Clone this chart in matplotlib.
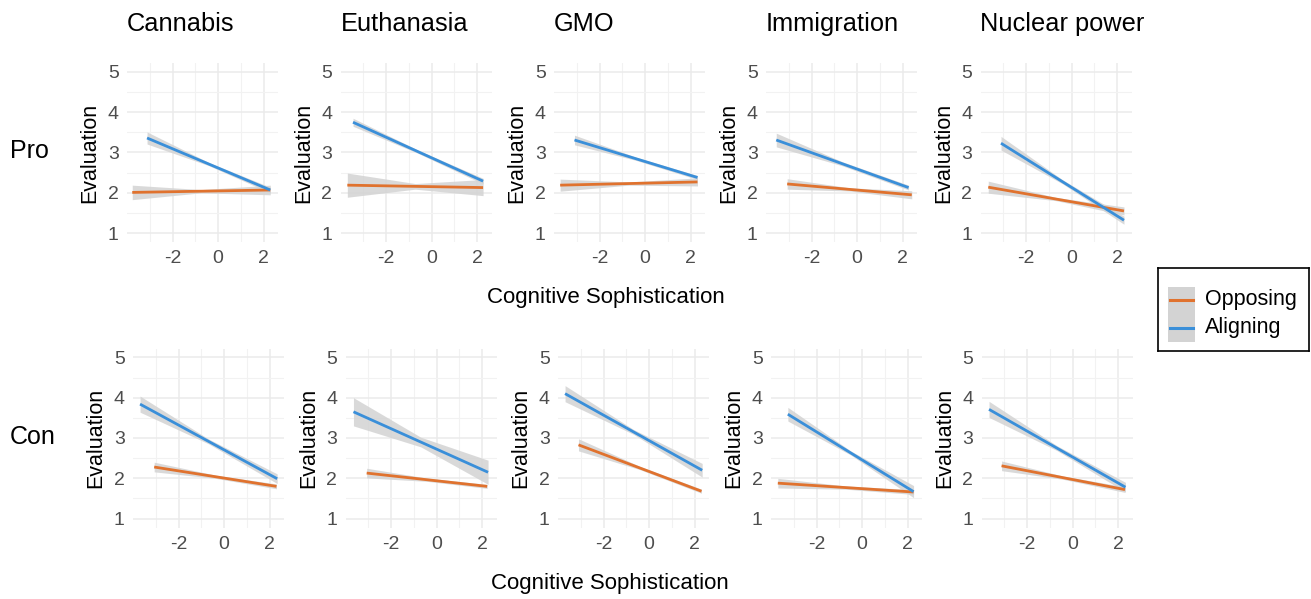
import matplotlib
matplotlib.use("Agg")
import matplotlib.pyplot as plt
from matplotlib.patches import Rectangle

plt.rcParams['font.family'] = ['Liberation Sans', 'DejaVu Sans']
plt.rcParams['axes.unicode_minus'] = False

W, H = 1311, 599

topics = ["Cannabis", "Euthanasia", "GMO", "Immigration", "Nuclear power"]
row_names = ["Pro", "Con"]
groups = ["Opposing", "Aligning"]

# each entry: (x start, x end, y start, y end, ci start, ci middle, ci end)
pro_opposing = [
    (-3.77, 2.29, 2.01, 2.07, 0.18, 0.04, 0.12),
    (-3.70, 2.26, 2.19, 2.13, 0.30, 0.07, 0.20),
    (-3.73, 2.30, 2.19, 2.27, 0.15, 0.04, 0.10),
    (-3.07, 2.40, 2.22, 1.95, 0.13, 0.04, 0.10),
    (-3.66, 2.30, 2.14, 1.55, 0.15, 0.04, 0.10),
]
pro_aligning = [
    (-3.12, 2.29, 3.36, 2.07, 0.15, 0.04, 0.07),
    (-3.45, 2.26, 3.75, 2.29, 0.10, 0.04, 0.07),
    (-3.10, 2.30, 3.31, 2.38, 0.12, 0.04, 0.05),
    (-3.55, 2.26, 3.31, 2.13, 0.17, 0.05, 0.06),
    (-3.10, 2.30, 3.23, 1.32, 0.17, 0.05, 0.10),
]
con_opposing = [
    (-3.07, 2.30, 2.28, 1.80, 0.12, 0.04, 0.06),
    (-3.07, 2.22, 2.13, 1.80, 0.12, 0.04, 0.05),
    (-3.10, 2.30, 2.83, 1.68, 0.15, 0.04, 0.05),
    (-3.70, 2.26, 1.88, 1.66, 0.12, 0.04, 0.06),
    (-3.12, 2.30, 2.31, 1.72, 0.12, 0.04, 0.07),
]
con_aligning = [
    (-3.69, 2.33, 3.84, 1.99, 0.20, 0.06, 0.12),
    (-3.65, 2.26, 3.65, 2.15, 0.35, 0.12, 0.30),
    (-3.69, 2.33, 4.10, 2.20, 0.20, 0.06, 0.17),
    (-3.26, 2.26, 3.59, 1.67, 0.17, 0.05, 0.15),
    (-3.67, 2.32, 3.71, 1.78, 0.20, 0.06, 0.12),
]

colors = {"Opposing": "#E0722E", "Aligning": "#3A8FD9"}
ribbon = "#D3D3D3"

# panel layout in pixels
row_lefts = [[127, 340.5, 554, 766, 980.5], [133, 345.5, 558, 771, 981.5]]
row_tops = [63, 348.5]
pw, ph = 151, 179

fig = plt.figure(figsize=(W / 100, H / 100), dpi=100)


def draw_fit(ax, fit, color):
    x0, x1, y0, y1, c0, cm, c1 = fit
    xm = (x0 + x1) / 2
    ym = (y0 + y1) / 2
    xs = [x0, xm, x1]
    ys = [y0, ym, y1]
    lo = [y0 - c0, ym - cm, y1 - c1]
    hi = [y0 + c0, ym + cm, y1 + c1]
    ax.fill_between(xs, lo, hi, color=ribbon, alpha=0.85, lw=0, zorder=2)
    ax.plot([x0, x1], [y0, y1], color=color, lw=2.0, zorder=3,
            solid_capstyle='butt')


data = [(pro_opposing, pro_aligning), (con_opposing, con_aligning)]

for r in range(2):
    opp, ali = data[r]
    for c in range(5):
        left = row_lefts[r][c]
        top = row_tops[r]
        ax = fig.add_axes([left / W, 1 - (top + ph) / H, pw / W, ph / H])
        ax.set_xlim(-4.0, 2.63)
        ax.set_ylim(0.78, 5.22)
        ax.set_xticks([-2, 0, 2])
        ax.set_xticks([-3, -1, 1], minor=True)
        ax.set_yticks([1, 2, 3, 4, 5])
        ax.set_yticks([1.5, 2.5, 3.5, 4.5], minor=True)
        ax.grid(which='major', color='#EBEBEB', lw=1.1)
        ax.grid(which='minor', color='#F2F2F2', lw=0.8)
        ax.set_axisbelow(True)
        for s in ax.spines.values():
            s.set_visible(False)
        ax.tick_params(which='both', length=0)
        ax.tick_params(axis='y', labelsize=14, labelcolor='#4D4D4D', pad=6)
        ax.tick_params(axis='x', labelsize=14, labelcolor='#4D4D4D', pad=6)
        draw_fit(ax, opp[c], colors["Opposing"])
        draw_fit(ax, ali[c], colors["Aligning"])

        fig.text((left - 37) / W, 1 - (top + ph / 2) / H, "Evaluation",
                 rotation=90, ha='center', va='center', fontsize=15.5)
        if r == 0:
            fig.text(left / W, 1 - 24 / H, topics[c], ha='left', va='center',
                     fontsize=18.3)

fig.text(10 / W, 1 - 151 / H, row_names[0], ha='left', va='center', fontsize=18)
fig.text(10 / W, 1 - 437 / H, row_names[1], ha='left', va='center', fontsize=18)

fig.text(606 / W, 1 - 298 / H, "Cognitive Sophistication", ha='center',
         va='center', fontsize=16)
fig.text(610 / W, 1 - 583 / H, "Cognitive Sophistication", ha='center',
         va='center', fontsize=16)

# legend box
lg = fig.add_axes([1158 / W, 1 - 351 / H, 151 / W, 83 / H])
lg.set_xlim(0, 151)
lg.set_ylim(83, 0)
lg.set_xticks([])
lg.set_yticks([])
for s in lg.spines.values():
    s.set_linewidth(1.2)
    s.set_color('black')
lg.add_patch(Rectangle((10, 19), 27, 55, color=ribbon, lw=0))
for i, g in enumerate(groups):
    yy = 32 + 28 * i
    lg.plot([12, 35], [yy, yy], color=colors[g], lw=2.2)
    lg.text(47, yy, g, ha='left', va='center', fontsize=15.5)

fig.savefig("out.png", dpi=100)
